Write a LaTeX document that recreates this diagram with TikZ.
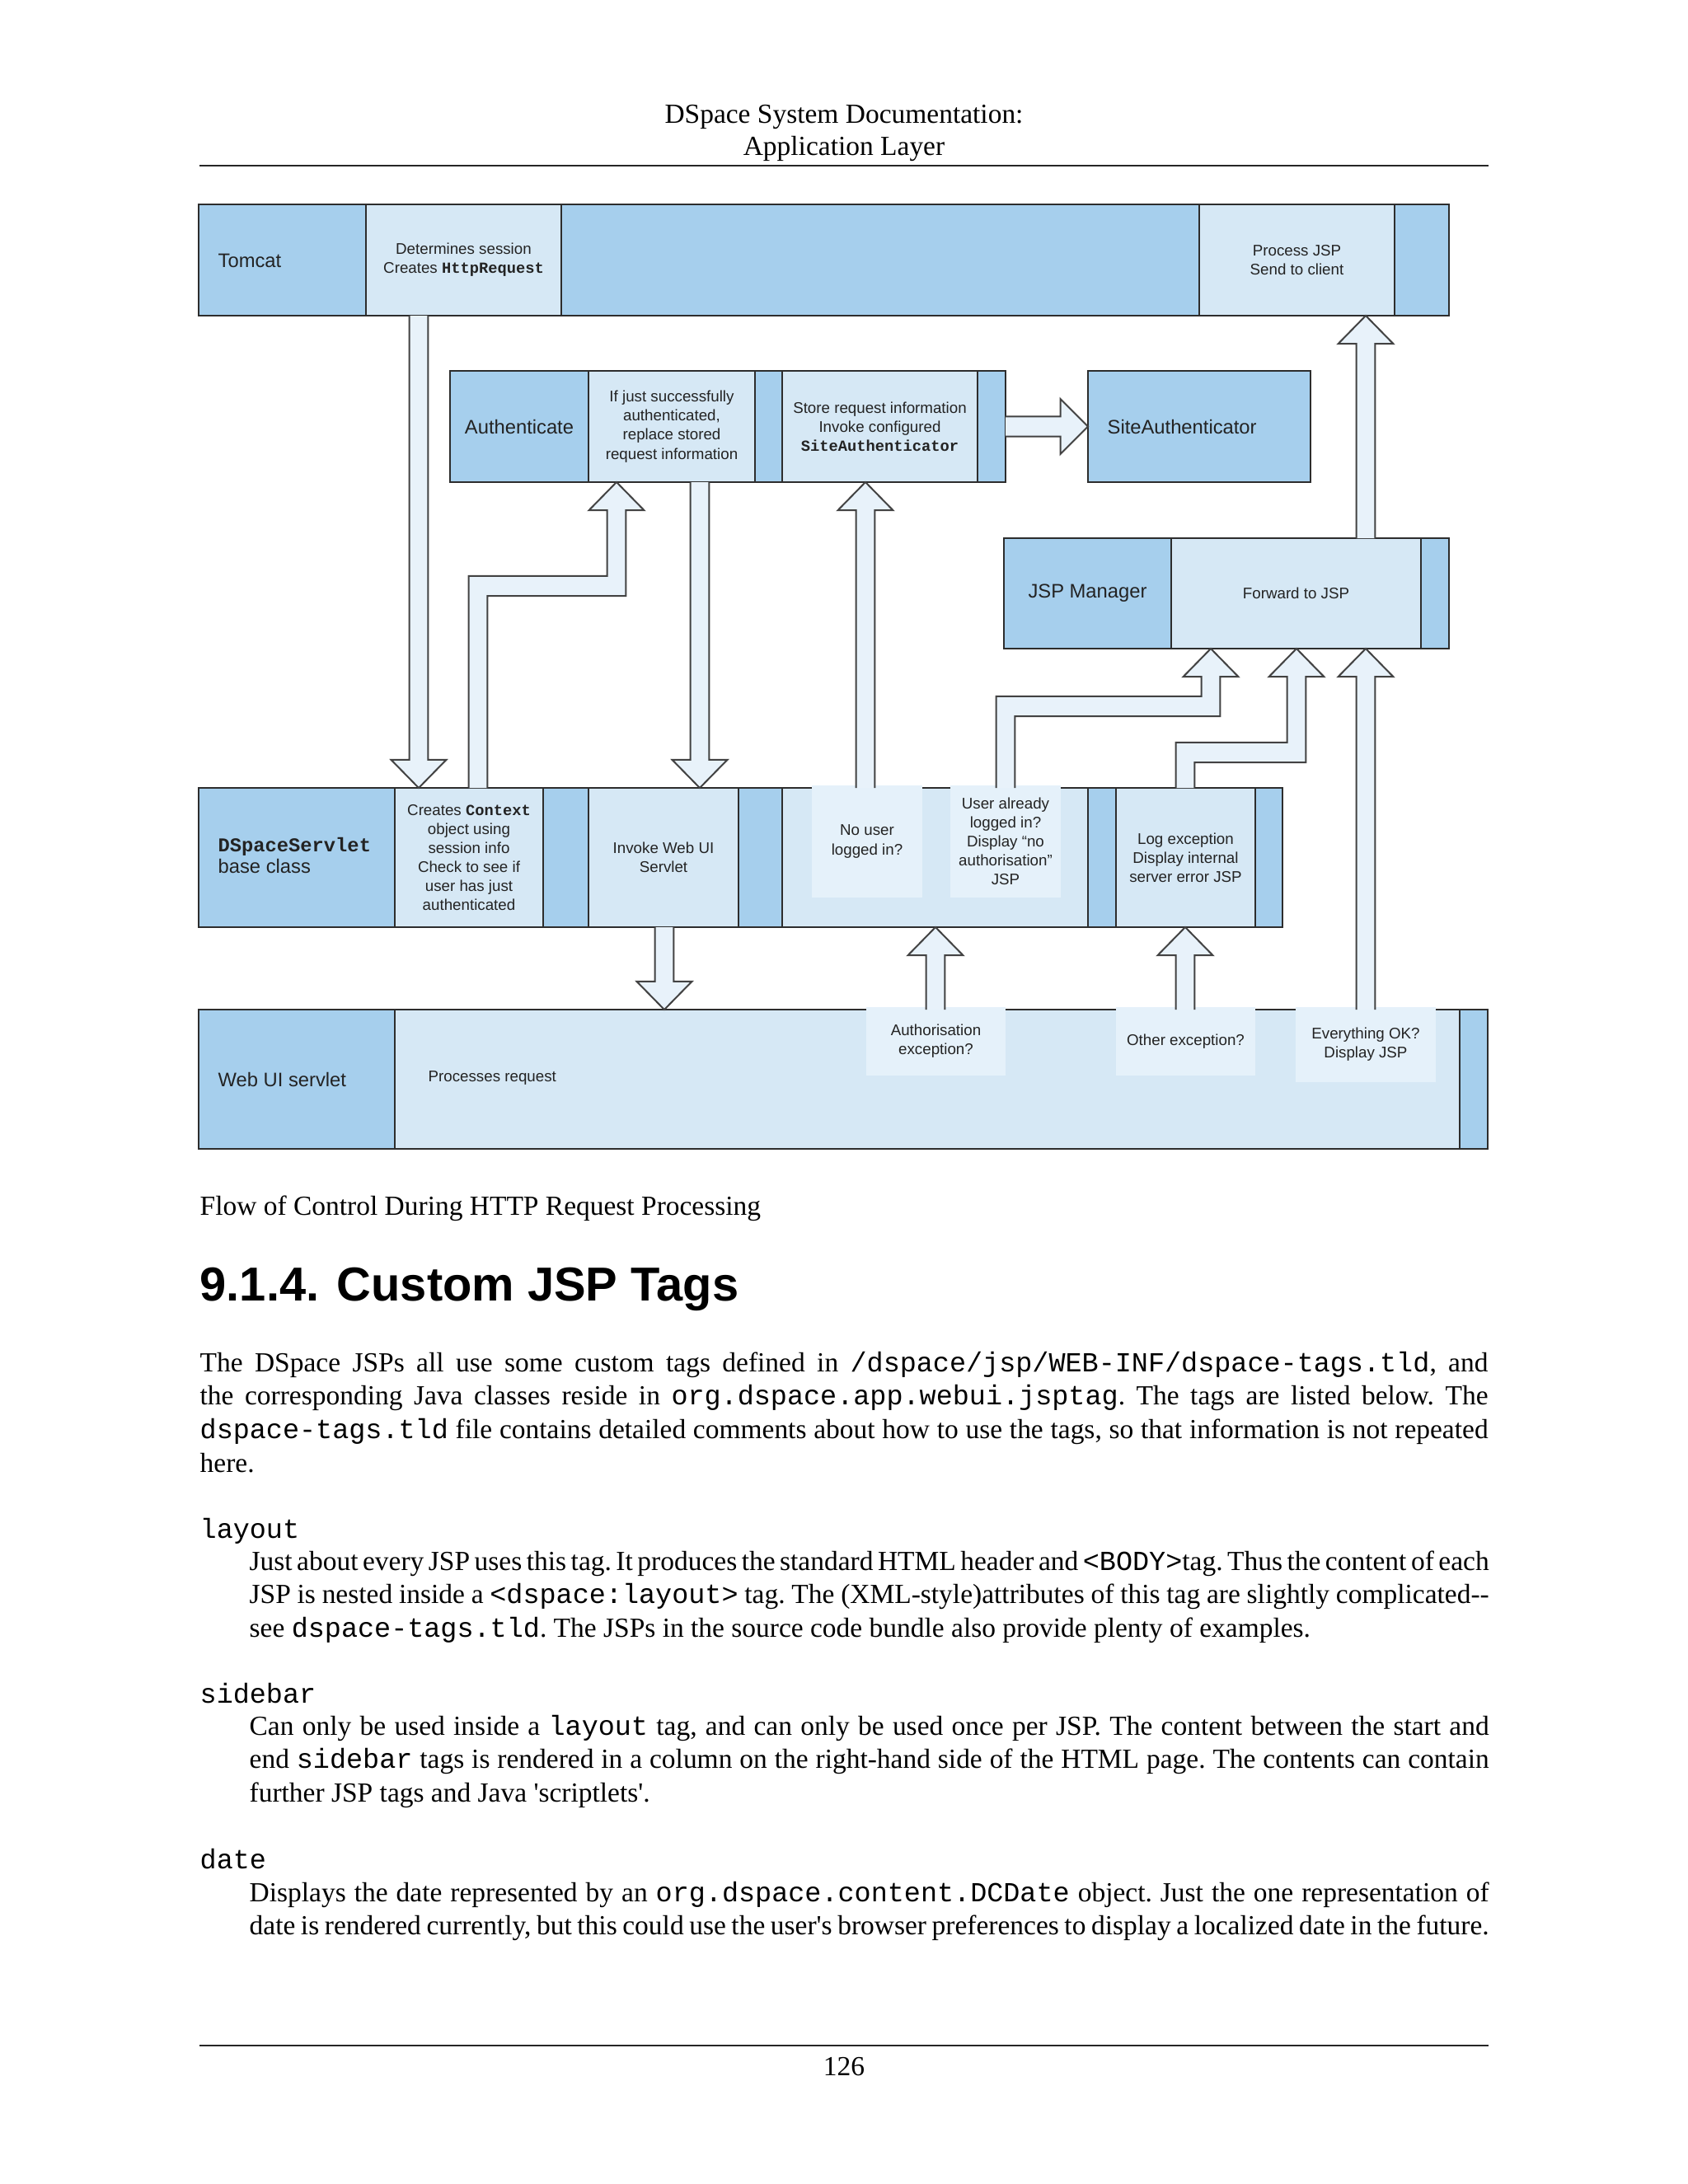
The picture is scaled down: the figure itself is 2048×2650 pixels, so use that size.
\documentclass[tikz,border=0pt]{standalone}
\usepackage{fontspec}
\setmainfont{Liberation Serif}
\setsansfont{Liberation Sans}
\setmonofont{Liberation Mono}
\usetikzlibrary{fit,calc}

\definecolor{cdark}{RGB}{166,207,237}
\definecolor{clight}{RGB}{214,232,245}
\definecolor{cpanel}{RGB}{229,241,250}
\definecolor{carrow}{RGB}{232,242,250}
\definecolor{cline}{RGB}{45,45,45}
\definecolor{ctext}{RGB}{35,35,35}

\tikzset{
  dark/.style={draw=cline, fill=cdark, line width=0.7pt, inner sep=0pt, outer sep=0pt},
  light/.style={draw=cline, fill=clight, line width=0.7pt, inner sep=0pt, outer sep=0pt},
  panel/.style={fill=cpanel, inner sep=0pt, outer sep=0pt},
  barrow/.style={draw=cline!90, fill=carrow, line width=0.6pt, line join=miter},
  big/.style={font=\sffamily\fontsize{7.1}{8}\selectfont, text=ctext, inner sep=0pt, align=left},
  small/.style={font=\sffamily\fontsize{5.6}{6.9}\selectfont, text=ctext, inner sep=0pt, align=center},
  txt/.style={font=\fontsize{10}{12.15}\selectfont, inner sep=0pt},
  para/.style={txt, text width=#1, align=justify},
  sechead/.style={font=\sffamily\bfseries\fontsize{17.28}{20}\selectfont, inner sep=0pt},
  rule/.style={line width=0.8pt, draw=black!85}
}

% a cell of a swim lane, from corner to corner
\newcommand{\cell}[4]{\node[#2, fit={#3 #4}] (#1) {};}
\newcommand{\cd}[1]{{\ttfamily\bfseries #1}}
\newcommand{\para}{\frenchspacing\tolerance=9999\hyphenpenalty=10000\spaceskip=2.5pt plus 3pt minus 2pt\relax}

% straight block arrow, up or down
\newcommand{\vblock}[2]{%
  \filldraw[barrow] let \p1=(#1), \p2=(#2), \n1={ifthenelse(\y2>\y1,10.2,-10.2)} in
    ({\x1-3.4pt},\y1) -- ({\x1-3.4pt},{\y2-(\n1)}) -- ({\x1-10pt},{\y2-(\n1)}) -- (\x1,\y2)
    -- ({\x1+10pt},{\y2-(\n1)}) -- ({\x1+3.4pt},{\y2-(\n1)}) -- ({\x1+3.4pt},\y1);}

% bent block arrow going up, then right, then up
\newcommand{\bblock}[3]{%
  \filldraw[barrow] let \p1=(#1), \p2=(#2), \p3=(#3) in
    ({\x1-3.4pt},\y1) -- ({\x1-3.4pt},{\y3+3.6pt}) -- ({\x2-3.4pt},{\y3+3.6pt})
    -- ({\x2-3.4pt},{\y2-10.2pt}) -- ({\x2-10pt},{\y2-10.2pt}) -- (\x2,\y2)
    -- ({\x2+10pt},{\y2-10.2pt}) -- ({\x2+3.4pt},{\y2-10.2pt}) -- ({\x2+3.4pt},{\y3-3.6pt})
    -- ({\x1+3.4pt},{\y3-3.6pt}) -- ({\x1+3.4pt},\y1);}

\begin{document}
\begin{tikzpicture}[x=0.2988pt,y=-0.2988pt]
\useasboundingbox (0,0) rectangle (2048,2650);
\fill[white] (0,0) rectangle (2048,2650);

% running head
\node[txt, anchor=base] (hd1) at (1024,149) {DSpace System Documentation:};
\node[txt, anchor=base] (hd2) at (1024,188) {Application Layer};
\draw[rule] (242,201) -- (1806,201);

% Tomcat lane
\cell{tomcat}{dark}{(241,248)}{(444,383)}
\cell{tomdet}{light}{(444,248)}{(681,383)}
\cell{tommid}{dark}{(681,248)}{(1455,383)}
\cell{tomjsp}{light}{(1455,248)}{(1692,383)}
\cell{tomend}{dark}{(1692,248)}{(1758,383)}

% Authenticate lane
\cell{auth}{dark}{(546,450)}{(714,585)}
\cell{authrep}{light}{(714,450)}{(916,585)}
\cell{authgap}{dark}{(916,450)}{(949,585)}
\cell{authstore}{light}{(949,450)}{(1186,585)}
\cell{authend}{dark}{(1186,450)}{(1220,585)}
\cell{siteauth}{dark}{(1320,450)}{(1590,585)}

% JSP Manager lane
\cell{jspm}{dark}{(1218,653)}{(1421,787)}
\cell{jspfwd}{light}{(1421,653)}{(1724,787)}
\cell{jspend}{dark}{(1724,653)}{(1758,787)}

% DSpaceServlet lane
\cell{dss}{dark}{(241,956)}{(479,1125)}
\cell{dssctx}{light}{(479,956)}{(659,1125)}
\cell{dssgapa}{dark}{(659,956)}{(714,1125)}
\cell{dssinv}{light}{(714,956)}{(896,1125)}
\cell{dssgapb}{dark}{(896,956)}{(949,1125)}
\cell{dssauth}{light}{(949,956)}{(1320,1125)}
\cell{dssgapc}{dark}{(1320,956)}{(1354,1125)}
\cell{dsslog}{light}{(1354,956)}{(1523,1125)}
\cell{dssend}{dark}{(1523,956)}{(1556,1125)}
\cell{nouser}{panel}{(985,953)}{(1119,1089)}
\cell{already}{panel}{(1153,953)}{(1287,1089)}

% Web UI lane
\cell{web}{dark}{(241,1225)}{(479,1394)}
\cell{webproc}{light}{(479,1225)}{(1771,1394)}
\cell{webend}{dark}{(1771,1225)}{(1805,1394)}
\cell{webauth}{panel}{(1051,1222)}{(1220,1305)}
\cell{webother}{panel}{(1354,1222)}{(1523,1305)}
\cell{webok}{panel}{(1572,1222)}{(1742,1313)}

% lane labels
\node[big, anchor=west] (ltom) at (264,316) {Tomcat};
\node[big] (lauth) at (auth) {Authenticate};
\node[big, anchor=west] (lsite) at (1343,518) {SiteAuthenticator};
\node[big] (ljsp) at (jspm) {JSP Manager};
\node[big, anchor=west] (ldss) at (264,1038) {\cd{DSpaceServlet}\\base class};
\node[big, anchor=west] (lweb) at (264,1310) {Web UI servlet};

% step texts
\node[small] (tdet) at (tomdet) {Determines session\\Creates \cd{HttpRequest}};
\node[small] (tjsp) at (tomjsp) {Process JSP\\Send to client};
\node[small] (trep) at (authrep) {If just successfully\\authenticated,\\replace stored\\request information};
\node[small] (tstore) at (authstore) {Store request information\\Invoke configured\\\cd{SiteAuthenticator}};
\node[small] (tfwd) at (jspfwd) {Forward to JSP};
\node[small] (tctx) at (dssctx) {Creates \cd{Context}\\object using\\session info\\Check to see if\\user has just\\authenticated};
\node[small] (tinv) at (dssinv) {Invoke Web UI\\Servlet};
\node[small] (tnouser) at (nouser) {No user\\logged in?};
\node[small] (talready) at (already) {User already\\logged in?\\Display “no\\authorisation”\\JSP};
\node[small] (tlog) at (dsslog) {Log exception\\Display internal\\server error JSP};
\node[small, anchor=west] (tproc) at (519,1308) {Processes request};
\node[small] (twauth) at (webauth) {Authorisation\\exception?};
\node[small] (twother) at (webother) {Other exception?};
\node[small] (twok) at (webok) {Everything OK?\\Display JSP};

% block arrows
\coordinate (xreq) at (508,0);
\coordinate (xctx) at (580,0);
\coordinate (xrep) at (748,0);
\coordinate (xinv) at (849,0);
\coordinate (xnouser) at (1050,0);
\coordinate (xalready) at (1220,0);
\coordinate (xfwda) at (1469,0);
\coordinate (xlog) at (1438,0);
\coordinate (xfwdb) at (1573,0);
\coordinate (xok) at (1657,0);
\coordinate (xproc) at (806,0);
\coordinate (xwauth) at (1135,0);

\vblock{xreq |- tomdet.south}{xreq |- dssctx.north}
\bblock{xctx |- dssctx.north}{xrep |- authrep.south}{0,711}
\vblock{xinv |- authrep.south}{xinv |- dssinv.north}
\vblock{xnouser |- dssauth.north}{xnouser |- authstore.south}
\filldraw[barrow] let \p1=(authend.east), \p2=(siteauth.west) in
  (\x1,{\y1+3.6pt}) -- ({\x2-10pt},{\y1+3.6pt}) -- ({\x2-10pt},{\y1+10pt}) -- (\x2,\y2)
  -- ({\x2-10pt},{\y1-10pt}) -- ({\x2-10pt},{\y1-3.6pt}) -- (\x1,{\y1-3.6pt});
\bblock{xalready |- dssauth.north}{xfwda |- jspfwd.south}{0,857}
\bblock{xlog |- dsslog.north}{xfwdb |- jspfwd.south}{0,913}
\vblock{xok |- webproc.north}{xok |- jspfwd.south}
\vblock{xok |- jspfwd.north}{xok |- tomjsp.south}
\vblock{xproc |- dssinv.south}{xproc |- webproc.north}
\vblock{xwauth |- webproc.north}{xwauth |- dssauth.south}
\vblock{xlog |- webproc.north}{xlog |- dsslog.south}

% caption and section
\node[txt, anchor=base west] (cap) at (242,1474) {Flow of Control During HTTP Request Processing};
\node[sechead, anchor=base west] (sec) at (242,1578) {9.1.4. Custom JSP Tags};

\node[para=467pt, anchor=base west] (pintro) at (242,1664) {\para The DSpace JSPs all use some custom tags defined in \texttt{/dspace/jsp/WEB-INF/dspace-tags.tld}, and\linebreak
the corresponding Java classes reside in \texttt{org.dspace.app.webui.jsptag}. The tags are listed below. The\linebreak
\texttt{dspace-tags.tld} file contains detailed comments about how to use the tags, so that information is not repeated\linebreak
here.};

% tag list
\node[txt, anchor=base west] (tlayout) at (242,1866) {\ttfamily layout};
\node[para=449.4pt, anchor=base west] (playout) at (302,1905) {\para Just about every JSP uses this tag. It produces the standard HTML header and \texttt{<BODY>}tag. Thus the content of each\linebreak
JSP is nested inside a \texttt{<dspace:layout>} tag. The (XML-style)attributes of this tag are slightly complicated-{}-\linebreak
see \texttt{dspace-tags.tld}. The JSPs in the source code bundle also provide plenty of examples.};

\node[txt, anchor=base west] (tsidebar) at (242,2066) {\ttfamily sidebar};
\node[para=449.4pt, anchor=base west] (psidebar) at (302,2105) {\para Can only be used inside a \texttt{layout} tag, and can only be used once per JSP. The content between the start and\linebreak
end \texttt{sidebar} tags is rendered in a column on the right-hand side of the HTML page. The contents can contain\linebreak
further JSP tags and Java \textquotesingle scriptlets\textquotesingle.};

\node[txt, anchor=base west] (tdate) at (242,2267) {\ttfamily date};
\node[para=449.4pt, anchor=base west] (pdate) at (302,2307) {\para Displays the date represented by an \texttt{org.dspace.content.DCDate} object. Just the one representation of\linebreak
date is rendered currently, but this could use the user\textquotesingle s browser preferences to display a localized date in the future.};

% footer
\draw[rule] (242,2482) -- (1806,2482);
\node[txt, anchor=base] (pageno) at (1024,2518) {126};
\end{tikzpicture}
\end{document}
